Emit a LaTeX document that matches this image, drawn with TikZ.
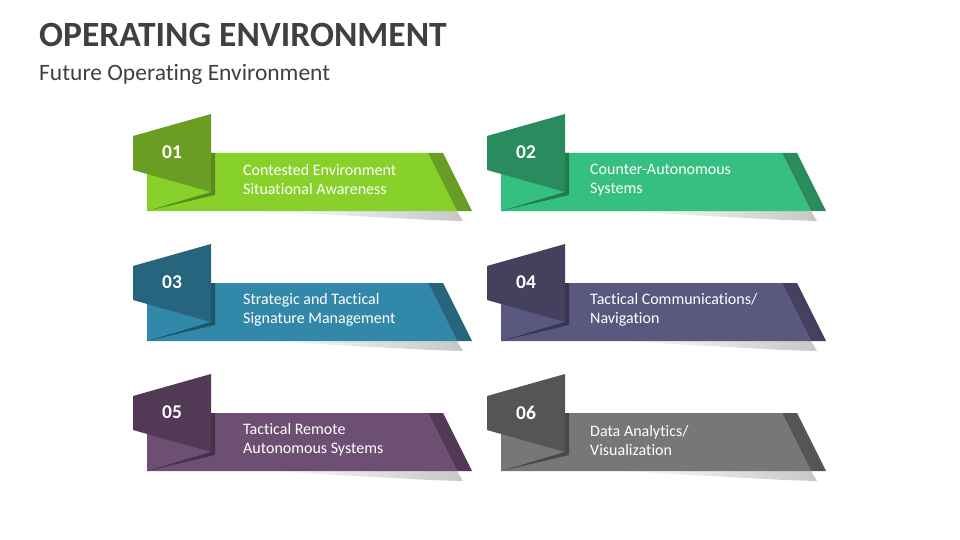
\documentclass[tikz,border=0pt]{standalone}
\usepackage{fontspec}
\setmainfont[Ligatures=NoCommon]{Carlito}
\usetikzlibrary{calc}
\definecolor{titlegray}{HTML}{404040}
\definecolor{cAl}{HTML}{88D12B}\definecolor{cAd}{HTML}{6A9E22}\definecolor{cAf}{HTML}{5A8A1C}
\definecolor{cBl}{HTML}{35BF80}\definecolor{cBd}{HTML}{2A8C5E}\definecolor{cBf}{HTML}{237A50}
\definecolor{cCl}{HTML}{3288A8}\definecolor{cCd}{HTML}{27647E}\definecolor{cCf}{HTML}{1F566C}
\definecolor{cDl}{HTML}{5B587F}\definecolor{cDd}{HTML}{44405E}\definecolor{cDf}{HTML}{393550}
\definecolor{cEl}{HTML}{6E4F74}\definecolor{cEd}{HTML}{523956}\definecolor{cEf}{HTML}{45304A}
\definecolor{cFl}{HTML}{777777}\definecolor{cFd}{HTML}{555555}\definecolor{cFf}{HTML}{484848}
\tikzset{
  numtext/.style={text=white,font=\bfseries\fontsize{19.5}{22}\selectfont,inner sep=0pt},
  labeltext/.style={text=white,font=\fontsize{16}{19}\selectfont,align=left,anchor=west,inner sep=0pt},
}
\newcommand{\mycard}[8]{%
  \begin{scope}[shift={(#1,#2)}]
    \shade[left color=white,right color=black!22] (262,211) -- (457,211) -- (463,221) -- (430,220) -- cycle;
    \fill[#3] (147,153) -- (428,153) -- (457,211) -- (147,211) -- cycle;
    \fill[#4] (428,153) -- (443,153) -- (472,211) -- (457,211) -- cycle;
    \fill[#5] (211,153) -- (215,153) -- (215,195) -- (147,211) -- (211,192) -- cycle;
    \fill[#4] (133,136) -- (211,114) -- (211,192) -- (133,170) -- cycle;
    \node[numtext] (n#6) at (172,152.5) {#6};
    \node[labeltext] (t#6) at (#8,180) {#7};
  \end{scope}}
\begin{document}
\begin{tikzpicture}[x=1pt,y=-1pt]
\useasboundingbox[fill=white] (0,0) rectangle (960,540);
\node[anchor=base west,inner sep=0pt,text=titlegray,font=\bfseries\fontsize{35.5}{40}\selectfont] (title) at (39,47) {OPERATING ENVIRONMENT};
\node[anchor=base west,inner sep=0pt,text=titlegray,font=\fontsize{23.5}{28}\selectfont] (subtitle) at (39,81) {Future Operating Environment};
\mycard{0}{0}{cAl}{cAd}{cAf}{01}{Contested Environment\\Situational Awareness}{243}
\mycard{354}{0}{cBl}{cBd}{cBf}{02}{Counter-Autonomous\\Systems}{236}
\mycard{0}{130}{cCl}{cCd}{cCf}{03}{Strategic and Tactical\\Signature Management}{243}
\mycard{354}{130}{cDl}{cDd}{cDf}{04}{Tactical Communications/\\Navigation}{236}
\mycard{0}{260}{cEl}{cEd}{cEf}{05}{Tactical Remote\\Autonomous Systems}{243}
\mycard{354}{260}{cFl}{cFd}{cFf}{06}{Data Analytics/\\Visualization}{236}
\end{tikzpicture}
\end{document}
